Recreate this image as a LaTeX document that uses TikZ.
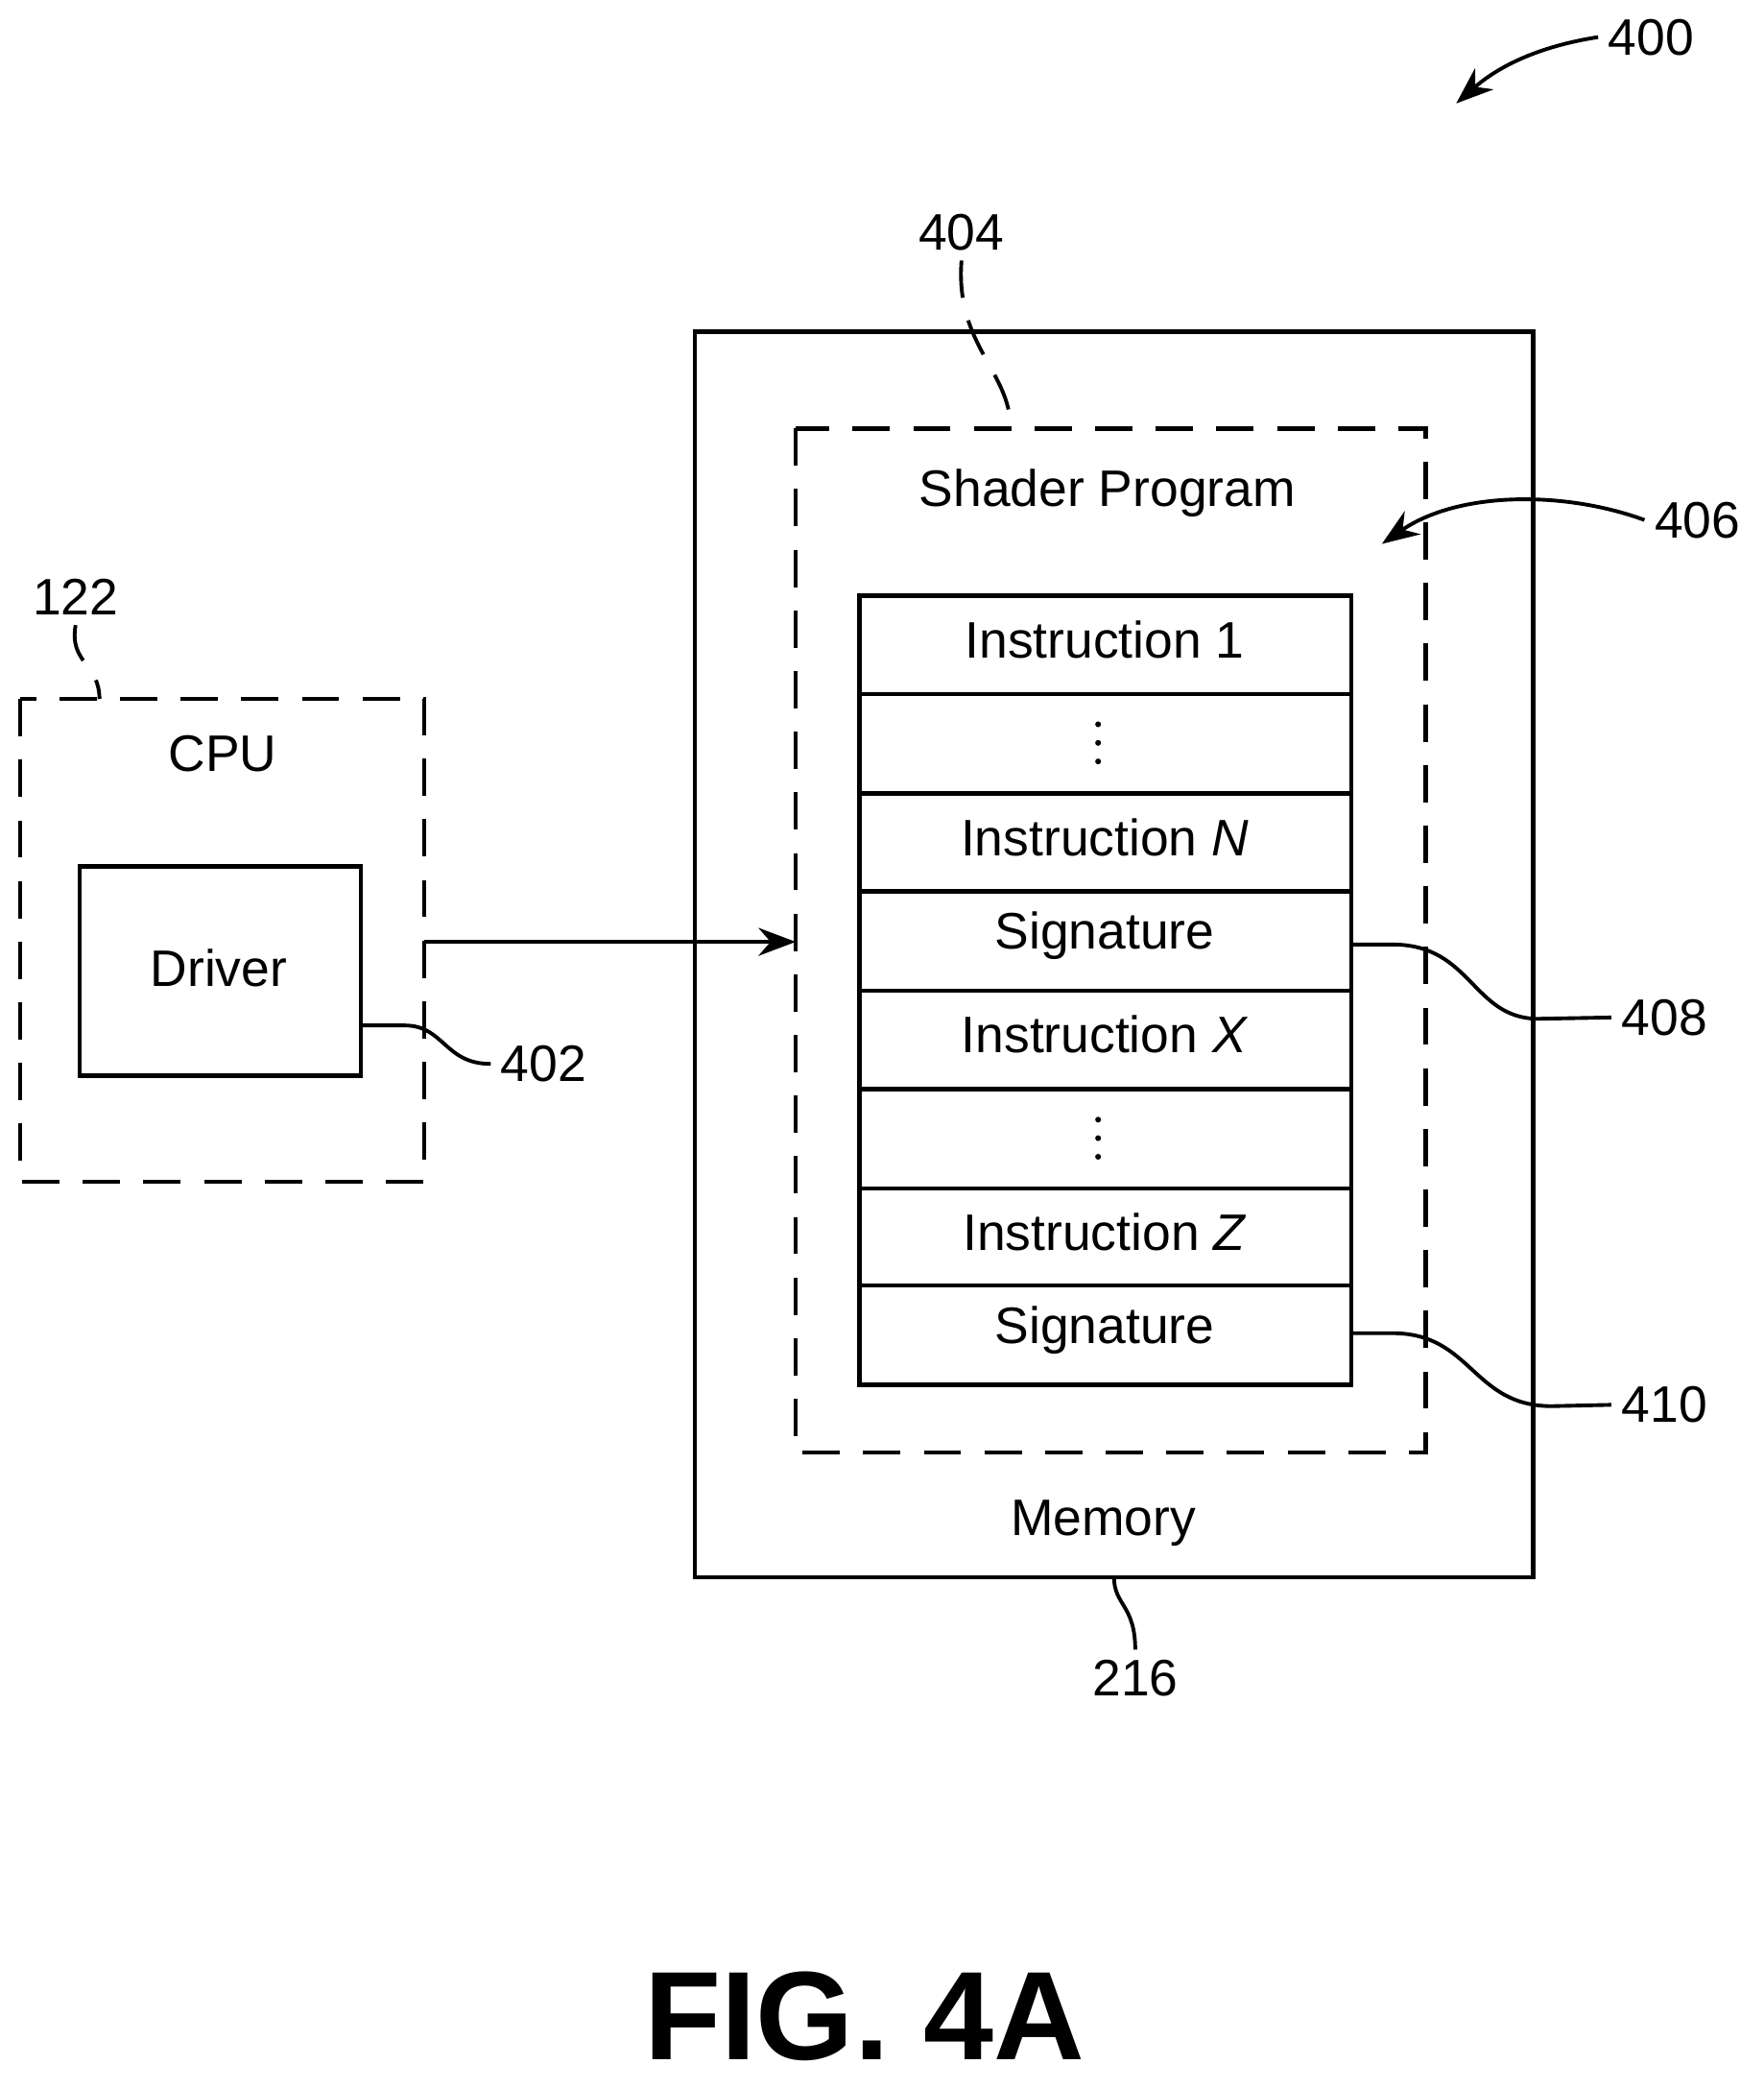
\documentclass[tikz,border=0pt]{standalone}
\usepackage{fontspec}
\setmainfont{Liberation Sans}
\usetikzlibrary{arrows.meta}
\begin{document}
\begin{tikzpicture}[x=0.01cm,y=-0.01cm,
  box/.style={draw,line width=0.9pt},
  dbox/.style={draw,line width=0.9pt,dash pattern=on 8pt off 5pt},
  lead/.style={line width=0.8pt},
  lbl/.style={font=\fontsize{11}{13}\selectfont,inner sep=2pt},
  txt/.style={font=\fontsize{11}{13}\selectfont},
  arr/.style={line width=0.8pt,-{Stealth[length=8pt,width=6pt]}}]
\useasboundingbox (0,0) rectangle (1330,1574);
% memory
\draw[box] (524,250) rectangle (1156,1189);
\node[txt] (mem) at (832,1148) {Memory};
\node[lbl] (l216) at (856,1265) {216};
\coordinate (m216) at (840,1189);
\draw[lead] (m216) .. controls (840,1210) and (856,1210) .. (l216.north);
% shader
\draw[dbox] (600,323) rectangle (1075,1095);
\node[txt] (sp) at (835,372) {Shader Program};
\node[lbl] (l404) at (725,175) {404};
\coordinate (s404) at (762,323);
\draw[lead,dash pattern=on 8pt off 5pt] (l404.south) .. controls (720,260) and (762,280) .. (s404);
\node[lbl] (l406) at (1280,392) {406};
\coordinate (a406) at (1042,410);
\draw[arr] (l406.west) .. controls (1180,370) and (1100,370) .. (a406);
% stack
\foreach \ya/\yb/\t/\n in {449/523/{Instruction 1}/r1,598/672/{Instruction \emph{N}}/r3,672/747/{Signature}/r4,747/821/{Instruction \emph{X}}/r5,896/969/{Instruction \emph{Z}}/r7,969/1044/{Signature}/r8}{
  \draw[box] (648,\ya) rectangle (1019,\yb);
  \node[txt] (\n) at (833,{(\ya+\yb)/2-4}) {\t};
}
\draw[box] (648,523) rectangle (1019,598);
\draw[box] (648,821) rectangle (1019,896);
\foreach \yc/\n in {560/r2,858/r6}{
  \coordinate (\n) at (828,\yc);
  \foreach \d in {-14,0,14} \fill ([yshift=-\d*0.01cm]\n) circle (2.2);
}
\node[lbl] (l408) at (1255,767) {408};
\coordinate (c408) at (1019,712);
\draw[lead] (c408) -- (1050,712) .. controls (1110,712) and (1110,768) .. (1160,768) -- (l408.west);
\node[lbl] (l410) at (1255,1059) {410};
\coordinate (c410) at (1019,1005);
\draw[lead] (c410) -- (1050,1005) .. controls (1110,1005) and (1110,1060) .. (1170,1060) -- (l410.west);
% CPU
\draw[dbox] (15,527) rectangle (320,891);
\node[txt] (cpu) at (168,568) {CPU};
\node[lbl] (l122) at (57,450) {122};
\coordinate (c122) at (75,527);
\draw[lead,dash pattern=on 8pt off 5pt] (l122.south) .. controls (52,500) and (75,500) .. (c122);
\draw[box] (60,653) rectangle (272,811);
\node[txt] (drv) at (165,730) {Driver};
\node[lbl] (l402) at (410,802) {402};
\coordinate (c402) at (272,773);
\draw[lead] (c402) -- (305,773) .. controls (335,773) and (335,802) .. (l402.west);
\coordinate (cpuR) at (320,710);
\coordinate (spL) at (600,710);
\draw[arr] (cpuR) -- (spL);
% 400
\node[lbl] (l400) at (1245,28) {400};
\coordinate (a400) at (1098,78);
\draw[arr] (l400.west) .. controls (1160,35) and (1130,50) .. (a400);
\node[font=\bfseries\fontsize{27}{30}\selectfont] (fig) at (652,1520) {FIG. 4A};
\end{tikzpicture}
\end{document}
